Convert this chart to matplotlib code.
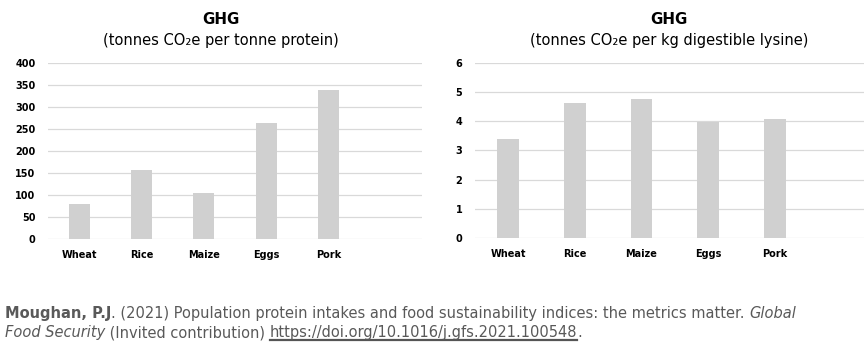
import matplotlib
matplotlib.use("Agg")
import matplotlib.pyplot as plt
from matplotlib.lines import Line2D

categories = ["Wheat", "Rice", "Maize", "Eggs", "Pork"]
ghg_protein = [80, 157, 105, 263, 339]
ghg_lysine = [3.40, 4.61, 4.77, 3.96, 4.07]
yticks_left = [0, 50, 100, 150, 200, 250, 300, 350, 400]
yticks_right = [0, 1, 2, 3, 4, 5, 6]

bar_color = "#d0d0d0"
grid_color = "#d9d9d9"

W, H = 864, 354
fig = plt.figure(figsize=(8.64, 3.54), dpi=100)
fig.patch.set_facecolor("white")

ax1 = fig.add_axes([48/W, 1-239/H, 374/W, 176/H])
ax2 = fig.add_axes([475/W, 1-238/H, 389/W, 175.3/H])

def style(ax, ticks, xmax):
    for s in ax.spines.values():
        s.set_visible(False)
    ax.set_yticks(ticks)
    ax.set_ylim(ticks[0], ticks[-1])
    ax.yaxis.grid(True, color=grid_color, linewidth=0.9)
    ax.set_axisbelow(True)
    ax.tick_params(length=0)
    ax.tick_params(axis="y", pad=9, labelsize=7)
    ax.tick_params(axis="x", pad=8, labelsize=7)
    for lab in ax.get_yticklabels() + ax.get_xticklabels():
        lab.set_fontweight("bold")
    ax.set_xlim(-0.5, xmax)

x = range(len(categories))
ax1.bar(x, ghg_protein, width=0.34, color=bar_color)
ax1.set_xticks(list(x))
ax1.set_xticklabels(categories)
style(ax1, yticks_left, 5.5)

ax2.bar(x, ghg_lysine, width=0.33, color=bar_color)
ax2.set_xticks(list(x))
ax2.set_xticklabels(categories)
style(ax2, yticks_right, -0.5 + 389/66.6)

fig.text(221/W, 1-20/H, "GHG", ha="center", va="center", fontsize=10.8, fontweight="bold")
fig.text(221/W, 1-41/H, "(tonnes CO\u2082e per tonne protein)", ha="center", va="center", fontsize=10.5)
fig.text(669/W, 1-20/H, "GHG", ha="center", va="center", fontsize=10.8, fontweight="bold")
fig.text(669/W, 1-41/H, "(tonnes CO\u2082e per kg digestible lysine)", ha="center", va="center", fontsize=10.5)

fg = "#595959"
fs = 10.5
fig.canvas.draw()
r = fig.canvas.get_renderer()

def seg(xpix, ypix, s, **kw):
    t = fig.text(xpix/W, 1-ypix/H, s, ha="left", va="baseline", fontsize=fs, color=fg, **kw)
    bb = t.get_window_extent(r)
    return t, bb.x1

y1, y2 = 318, 337
_, xe = seg(5, y1, "Moughan, P.J", fontweight="bold")
_, xe = seg(xe, y1, ". (2021) Population protein intakes and food sustainability indices: the metrics matter. ")
seg(xe, y1, "Global", style="italic")
_, xe = seg(5, y2, "Food Security", style="italic")
_, xe = seg(xe, y2, " (Invited contribution) ")
xs = xe
_, xe = seg(xe, y2, "https://doi.org/10.1016/j.gfs.2021.100548")
seg(xe, y2, ".")
fig.add_artist(Line2D([xs/W, xe/W], [1-(y2+2.5)/H]*2, color="#555555", linewidth=1.6))
fig.savefig("out.png", dpi=100)
